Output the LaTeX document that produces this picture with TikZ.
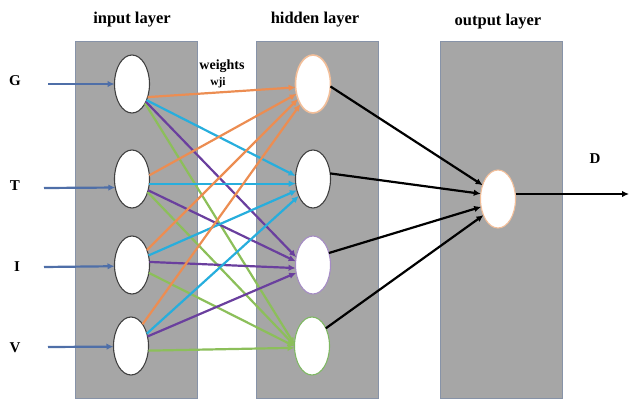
\documentclass[tikz,border=0pt]{standalone}
\usepackage{fontspec}
\setmainfont{Liberation Serif}
\usetikzlibrary{arrows.meta,shapes.geometric}
\definecolor{layergray}{HTML}{A6A6A6}
\definecolor{layeredge}{HTML}{8793A8}
\definecolor{inblue}{HTML}{4F6FA8}
\definecolor{corange}{HTML}{EC8D52}
\definecolor{ccyan}{HTML}{27AEDD}
\definecolor{cpurple}{HTML}{6A3F9E}
\definecolor{cgreen}{HTML}{8CBF5A}
\definecolor{ndark}{HTML}{404040}
\definecolor{nlorange}{HTML}{F2BE99}
\definecolor{nlpurple}{HTML}{A58CC4}
\definecolor{nlgreen}{HTML}{7FB863}
\begin{document}
\begin{tikzpicture}[x=1pt,y=-1pt,
  layerbox/.style={draw=layeredge, line width=1pt, fill=layergray, minimum width=122pt, minimum height=357pt, inner sep=0pt, outer sep=0pt},
  neuron/.style={ellipse, draw=ndark, fill=white, line width=1.1pt, minimum width=35pt, minimum height=58pt, inner sep=0pt, outer sep=0pt},
  title/.style={font=\bfseries\fontsize{16.5}{18}\selectfont},
  letter/.style={font=\bfseries\fontsize{15}{17}\selectfont},
  conn/.style={line width=2.2pt, -{Latex[length=7pt,width=6.5pt]}},
  inarrow/.style={conn, draw=inblue},
  blk/.style={conn, draw=black}
]
\useasboundingbox (0,0) rectangle (630,399);

% layer boxes
\node[layerbox] (Lin)  at (136,219.5) {};
\node[layerbox] (Lhid) at (317,219.5) {};
\node[layerbox] (Lout) at (501,219.5) {};

% titles
\node[title] (tin)  at (132,20) {input layer};
\node[title] (thid) at (315,20) {hidden layer};
\node[title] (tout) at (498,22) {output layer};
\node[font=\bfseries\fontsize{14}{16}\selectfont] (tw) at (222,66) {weights};
\node[font=\bfseries\fontsize{11.5}{13}\selectfont] (twji) at (218,83) {wji};

% input neurons
\node[neuron] (G) at (132,84) {};
\node[neuron] (T) at (132,179) {};
\node[neuron] (I) at (132,265) {};
\node[neuron] (V) at (131,346) {};

% hidden neurons
\node[neuron, draw=nlorange, line width=1.6pt] (H1) at (313,84) {};
\node[neuron] (H2) at (313,179) {};
\node[neuron, draw=nlpurple] (H3) at (313,265) {};
\node[neuron, draw=nlgreen] (H4) at (312,346) {};

% output neuron
\node[neuron, draw=nlorange] (O) at (498,199) {};

% input labels
\node[letter] (lG) at (15,81) {G};
\node[letter] (lT) at (15,186) {T};
\node[letter] (lI) at (17,267) {I};
\node[letter] (lV) at (15,348) {V};
\node[letter] (lD) at (595,159) {D};

% input arrow tails
\coordinate (aG) at (48,84);
\coordinate (aT) at (44,188);
\coordinate (aI) at (44,267);
\coordinate (aV) at (48,347);
\draw[inarrow] (aG) -- (G.west);
\draw[inarrow] (aT) -- (T.207);
\draw[inarrow] (aI) -- (I.184);
\draw[inarrow] (aV) -- (V.182);

% weights: green
\foreach \s/\a/\b in {G/-56/175, T/-40/178, I/-25/181, V/-15/186}
  \draw[conn, draw=cgreen] (\s.\a) -- (H4.\b);
% purple
\foreach \s/\a/\b in {G/-52/155, T/-35/168, I/10/190, V/30/205}
  \draw[conn, draw=cpurple] (\s.\a) -- (H3.\b);
% cyan
\foreach \s/\a/\b in {G/-48/170, T/-15/195, I/30/215, V/38/230}
  \draw[conn, draw=ccyan] (\s.\a) -- (H2.\b);
% orange
\foreach \s/\a/\b in {G/-40/191, T/12/211, I/45/225, V/62/238}
  \draw[conn, draw=corange] (\s.\a) -- (H1.\b);

% hidden to output
\draw[blk] (H1.-8) -- (O.138);
\draw[blk] (H2.18) -- (O.163);
\draw[blk] (H3.37) -- (O.205);
\draw[blk] (H4.52) -- (O.228);

% output
\coordinate (outEnd) at (629,194);
\draw[blk] (O.east |- outEnd) -- (outEnd);
\end{tikzpicture}
\end{document}
